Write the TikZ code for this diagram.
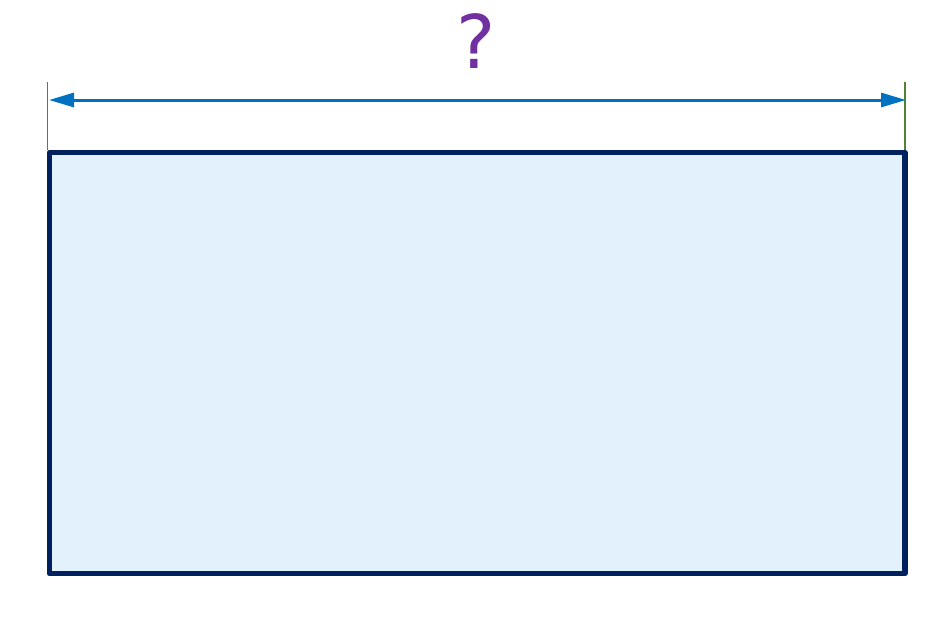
\documentclass[tikz,border=0pt]{standalone}
\usepackage{fontspec}
\newfontfamily\qfont{DejaVu Sans}
\usetikzlibrary{arrows.meta}
\definecolor{navy}{HTML}{002060}
\definecolor{fillblue}{HTML}{E3F1FD}
\definecolor{dimblue}{HTML}{0070C0}
\definecolor{extgreen}{HTML}{548235}
\definecolor{qpurple}{HTML}{7030A0}
\tikzset{
  box/.style={draw=navy, fill=fillblue, line width=5.5pt, line join=round},
  extline/.style={draw=extgreen, line width=1.2pt},
  dimline/.style={draw=dimblue, line width=3pt, {Triangle[length=25pt,width=14pt]}-{Triangle[length=25pt,width=14pt]}, shorten <=-1pt, shorten >=-1pt},
  qlabel/.style={text=qpurple, font=\qfont\fontsize{74}{80}\selectfont, inner sep=0pt, anchor=base}
}
\begin{document}
\begin{tikzpicture}[x=1pt,y=-1pt]
\useasboundingbox (0,0) rectangle (950,618);
\draw[box] (49.5,152.5) rectangle (905,573.5);
\coordinate (eL1) at (47.5,82);
\coordinate (eL2) at (47.5,150);
\coordinate (eR1) at (905,82);
\coordinate (eR2) at (905,150);
\draw[extline] (eL1) -- (eL2);
\draw[extline] (eR1) -- (eR2);
\coordinate (aL) at (50,100);
\coordinate (aR) at (905,100);
\draw[dimline] (aL) -- (aR);
\node[qlabel] (q) at (476,69) {?};
\end{tikzpicture}
\end{document}
